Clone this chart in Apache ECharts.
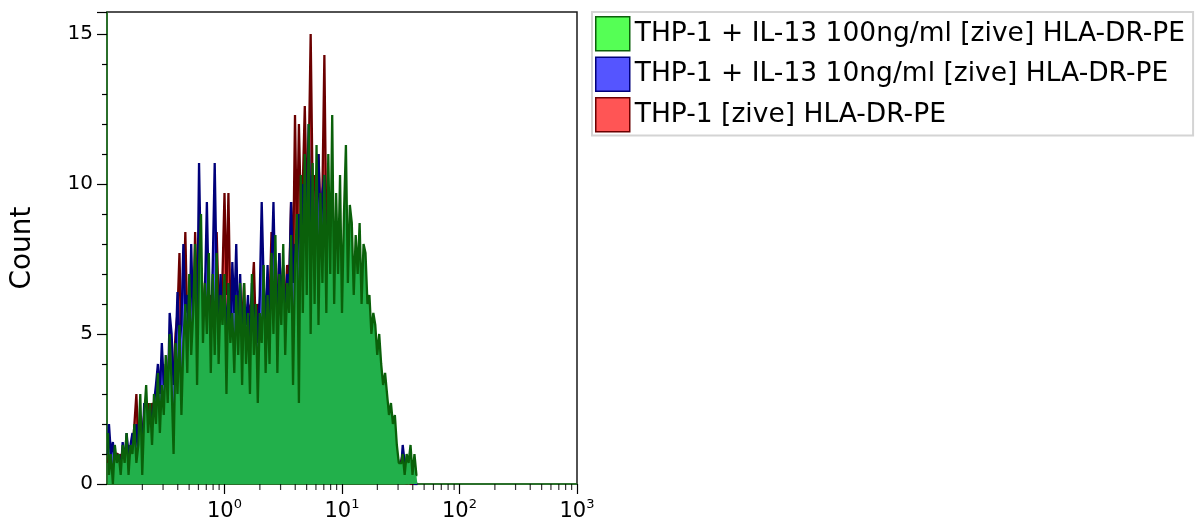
<!DOCTYPE html>
<html>
<head>
<meta charset="utf-8">
<script src="https://cdn.jsdelivr.net/npm/echarts@6/dist/echarts.min.js"></script>
<style>
html,body{margin:0;padding:0;background:#fff;}
#chart{width:1202px;height:519px;}
</style>
</head>
<body>
<div id="chart"></div>
<script>
// Channel layout: 60 log-spaced channels per decade starting at 10^-1
const CHANNEL_START_LOG = -1;
const CHANNELS_PER_DECADE = 60;

const seriesNames = [
  'THP-1 + IL-13 100ng/ml [zive] HLA-DR-PE',
  'THP-1 + IL-13 10ng/ml [zive] HLA-DR-PE',
  'THP-1 [zive] HLA-DR-PE'
];

// counts per channel
const green100 = [
  1.7,0.3,1.0,0.0,1.3,0.7,1.0,0.3,1.3,0.7,1.7,0.3,1.3,1.0,2.0,0.7,1.3,
  3.0,0.3,2.3,3.3,1.7,2.7,1.3,3.0,2.0,3.7,1.7,3.3,2.3,
  4.3,2.7,5.0,3.3,1.0,4.7,3.0,5.3,2.3,4.7,
  6.0,3.7,7.0,4.3,5.7,8.0,3.3,7.3,9.0,4.7,6.7,5.0,7.7,3.7,7.0,4.3,
  7.7,4.0,6.3,5.3,7.0,3.0,6.7,4.7,5.7,3.7,6.3,4.3,6.7,
  3.3,6.7,4.0,5.7,3.0,7.0,4.3,6.0,2.7,5.7,4.7,7.3,3.7,
  6.3,4.0,7.7,5.0,8.3,3.7,7.0,5.3,8.0,4.3,6.7,5.7,8.3,3.3,7.3,
  9.0,2.7,10.3,5.7,11.0,6.3,12.0,5.0,10.7,6.0,11.3,5.3,9.7,6.7,10.3,5.7,11.0,7.0,
  12.3,6.0,9.7,7.0,10.3,5.7,9.0,11.3,6.7,9.3,
  8.7,6.3,8.3,7.0,8.7,6.0,8.0,
  7.7,6.0,6.3,5.0,5.7,5.3,4.3,5.0,
  4.0,3.3,3.7,3.0,2.3,2.7,2.0,2.3,
  1.3,0.7,0.7,1.0,0.3,
  1.0,0.7,1.3,0.3,1.0,0.3
];
const blue10 = [
  1.0,2.0,1.0,1.4,0.7,0.7,1.0,0.3,1.4,0.7,1.7,1.0,1.3,1.7,1.0,2.0,1.0,
  2.3,1.0,2.7,2.0,2.3,1.7,2.3,2.7,3.3,4.0,3.0,4.7,3.3,
  3.7,2.7,5.7,5.0,3.3,4.3,6.4,4.7,5.3,8.0,
  5.7,6.3,4.7,8.0,5.3,6.7,5.0,10.7,7.0,5.7,6.3,9.4,6.0,4.7,7.3,10.7,
  6.7,5.3,7.0,4.7,6.3,5.0,6.7,4.3,7.4,5.7,8.0,5.0,7.0,
  4.7,6.0,5.3,6.3,4.3,6.7,5.0,6.0,4.7,6.3,9.4,6.7,5.3,
  7.3,5.0,7.0,9.4,6.3,5.7,7.7,6.0,7.3,5.3,7.0,6.3,9.4,6.7,8.0,
  7.3,9.0,8.0,10.0,7.3,9.3,12.0,8.7,10.3,7.7,9.0,11.0,8.0,9.7,10.3,7.3,8.7,6.7,
  8.0,6.0,7.0,5.7,6.7,5.0,6.3,5.3,6.0,4.7,
  5.7,4.3,5.0,4.0,4.7,3.7,4.0,
  3.3,3.7,3.0,3.3,2.7,2.3,2.7,2.0,
  2.3,1.7,2.0,1.3,1.7,1.0,1.3,0.7,
  1.0,0.7,0.3,1.3,0.7,
  0.3,0.3,0.0,0.3,0.0,0.0
];
const redCtrl = [
  0.7,1.0,0.3,0.7,1.0,1.0,0.7,1.0,0.3,1.0,0.7,1.3,0.7,1.0,2.0,3.0,1.3,
  2.0,1.7,2.3,1.3,2.7,2.0,2.7,2.3,3.0,3.3,2.7,3.7,3.0,
  4.0,3.3,4.7,4.0,3.7,5.0,5.7,7.7,4.7,6.0,
  8.4,5.3,6.3,6.7,5.0,8.4,6.0,7.0,6.3,5.3,6.7,7.3,5.7,6.3,5.0,7.0,
  8.4,6.0,5.3,7.0,9.7,6.3,9.7,5.7,6.7,5.0,6.3,4.7,6.0,
  5.3,6.7,4.3,6.0,5.7,6.3,7.4,5.0,6.0,5.7,7.0,6.3,5.0,
  6.7,6.0,8.4,6.7,7.0,5.7,7.7,6.3,7.0,6.0,7.3,6.7,9.4,7.0,12.3,
  8.0,12.0,9.0,10.0,12.6,9.3,10.7,15.0,9.7,10.3,8.7,11.0,9.0,9.7,14.3,8.3,9.0,7.7,
  8.3,6.7,7.3,5.7,6.3,5.0,5.7,4.7,5.3,4.3,
  5.0,4.0,4.3,3.7,4.0,3.3,3.7,
  3.0,3.3,2.7,2.3,2.7,2.0,2.3,1.7,
  2.0,1.3,1.7,1.0,1.3,0.7,1.0,0.3,
  0.7,0.3,0.7,1.0,0.3,
  0.0,0.3,0.0,0.0,0.0,0.0
];

const xMajorTicks = [1, 10, 100, 1000];
const xMinorTicks = [0.2,0.3,0.4,0.5,0.6,0.7,0.8,0.9, 2,3,4,5,6,7,8,9, 20,30,40,50,60,70,80,90, 200,300,400,500,600,700,800,900];
const yTicks = [0, 5, 10, 15];

function channelCenter(i) {
  return Math.pow(10, CHANNEL_START_LOG + (i + 0.5) / CHANNELS_PER_DECADE);
}
function toPairs(arr) {
  return arr.map((v, i) => [channelCenter(i), v]);
}

const FONT = "'DejaVu Sans', Verdana, sans-serif";

const chart = echarts.init(document.getElementById('chart'), null, {renderer: 'canvas'});

const styles = {
  green: {fill: '#22b04b', line: '#0a600a', swatch: '#55ff55', border: '#0a600a'},
  blue: {fill: '#5555ff', line: '#00007a', swatch: '#5555ff', border: '#00007a'},
  red: {fill: '#ff5555', line: '#6b0000', swatch: '#ff5555', border: '#6b0000'}
};

function areaSeries(name, data, st, z) {
  return {
    name: name,
    type: 'line',
    step: 'middle',
    data: toPairs(data),
    showSymbol: false,
    symbol: 'none',
    z: z,
    lineStyle: {color: st.line, width: 2.3},
    itemStyle: {color: st.swatch, borderColor: st.border},
    areaStyle: {color: st.fill, opacity: 1},
    emphasis: {disabled: true},
    animation: false
  };
}

const option = {
  animation: false,
  backgroundColor: '#fff',
  grid: {
    left: 107, right: 625, top: 12, bottom: 35,
    outerBoundsMode: 'none',
    containLabel: false,
    show: true, borderColor: '#1a1a1a', borderWidth: 1.5
  },
  legend: {
    orient: 'vertical',
    left: 592, top: 12,
    padding: [4, 8, 3, 3],
    itemWidth: 34, itemHeight: 34, itemGap: 5,
    borderColor: '#d4d4d4', borderWidth: 2,
    icon: 'rect',
    selectedMode: false,
    textStyle: {fontFamily: FONT, fontSize: 26.5, color: '#000'},
    data: [
      {name: seriesNames[0], itemStyle: {color: styles.green.swatch, borderColor: styles.green.border, borderWidth: 1.5}},
      {name: seriesNames[1], itemStyle: {color: styles.blue.swatch, borderColor: styles.blue.border, borderWidth: 1.5}},
      {name: seriesNames[2], itemStyle: {color: styles.red.swatch, borderColor: styles.red.border, borderWidth: 1.5}}
    ]
  },
  xAxis: {
    type: 'log',
    logBase: 10,
    min: 0.1,
    max: 1000,
    axisLine: {show: true, lineStyle: {color: '#1f7a1f', width: 1.5}},
    axisTick: {show: true, length: 10, customValues: xMajorTicks, lineStyle: {color: '#000', width: 1.2}},
    splitLine: {show: false},
    axisLabel: {
      margin: 14,
      color: '#000',
      fontFamily: FONT,
      customValues: xMajorTicks,
      hideOverlap: false,
      formatter: function (v) {
        const e = Math.round(Math.log10(v));
        return '{b|10}{s|' + e + '}';
      },
      rich: {
        b: {fontSize: 21, fontFamily: FONT, color: '#000', lineHeight: 24, verticalAlign: 'bottom'},
        s: {fontSize: 13, fontFamily: FONT, color: '#000', lineHeight: 13, verticalAlign: 'top'}
      }
    }
  },
  yAxis: {
    type: 'value',
    min: 0,
    max: 15.73,
    interval: 5,
    name: 'Count',
    nameLocation: 'middle',
    nameRotate: 90,
    nameGap: 70,
    nameTextStyle: {fontFamily: FONT, fontSize: 28, color: '#000'},
    axisLine: {show: true, lineStyle: {color: '#1f7a1f', width: 1.5}},
    axisTick: {show: true, length: 10, lineStyle: {color: '#000', width: 1.2}},
    minorTick: {show: true, splitNumber: 5, length: 5, lineStyle: {color: '#000', width: 1.2}},
    splitLine: {show: false},
    axisLabel: {
      margin: 14, color: '#000', fontFamily: FONT, fontSize: 20,
      formatter: function (v) { return yTicks.indexOf(v) >= 0 ? String(v) : ''; }
    }
  },
  series: [
    areaSeries(seriesNames[2], redCtrl, styles.red, 2),
    areaSeries(seriesNames[1], blue10, styles.blue, 3),
    areaSeries(seriesNames[0], green100, styles.green, 4),
    {
      type: 'scatter',
      name: 'minorTicks',
      data: xMinorTicks.map(v => [v, 0]),
      symbol: 'rect',
      symbolSize: [1.2, 6],
      symbolOffset: [0, 3],
      itemStyle: {color: '#000'},
      clip: false,
      silent: true,
      z: 10,
      animation: false
    }
  ]
};

chart.setOption(option);
</script>
</body>
</html>
